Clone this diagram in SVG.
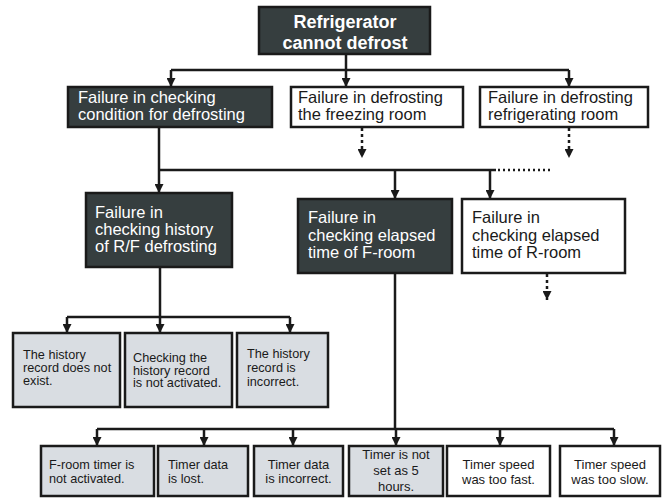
<svg xmlns="http://www.w3.org/2000/svg" width="663" height="498" viewBox="0 0 663 498">
<defs>
<marker id="ah" viewBox="0 0 10 10" refX="10" refY="5" markerWidth="9" markerHeight="9" markerUnits="userSpaceOnUse" orient="auto"><path d="M0,0 L10,5 L0,10 Z" fill="#1a1a1a"/></marker>
<style>
.dk{fill:#363e3f;stroke:#1a1a1a;stroke-width:2.5}
.wh{fill:#ffffff;stroke:#1a1a1a;stroke-width:2.5}
.gr{fill:#d9dde2;stroke:#1a1a1a;stroke-width:2.5}
.c{fill:none;stroke:#1a1a1a;stroke-width:2.5}
.a{fill:none;stroke:#1a1a1a;stroke-width:2.5;marker-end:url(#ah)}
.d{fill:none;stroke:#1a1a1a;stroke-width:2.5;stroke-dasharray:3,3;marker-end:url(#ah)}
.dl{fill:none;stroke:#1a1a1a;stroke-width:2.5;stroke-dasharray:2,3}
text{font-family:"Liberation Sans",Arial,sans-serif}
.tb{font-size:18px;font-weight:bold;fill:#ffffff;text-anchor:middle}
.tw{font-size:16.5px;fill:#ffffff}
.tk{font-size:16.5px;fill:#1a1a1a}
.s{font-size:12.7px;fill:#1a1a1a}
.sm{font-size:13px;fill:#1a1a1a;text-anchor:middle}
</style>
</defs>
<g id="connectors">
<path class="a" d="M346,54 V87"/>
<path class="c" d="M171,70 H569"/>
<path class="a" d="M171,70 V87"/>
<path class="a" d="M569,70 V87"/>
<path class="d" d="M362,128 V158"/>
<path class="d" d="M569,128 V158"/>
<path class="a" d="M159,127 V193"/>
<path class="c" d="M159,170 H496"/>
<path class="dl" d="M498,170 H551"/>
<path class="a" d="M395,170 V199"/>
<path class="a" d="M490,170 V199"/>
<path class="d" d="M547,274 V300"/>
<path class="c" d="M160,267 V317"/>
<path class="c" d="M67,317 H290"/>
<path class="a" d="M67,317 V333"/>
<path class="a" d="M160,317 V333"/>
<path class="a" d="M290,317 V333"/>
<path class="c" d="M395,273 V429"/>
<path class="c" d="M97,429 H614"/>
<path class="a" d="M97,429 V446"/>
<path class="a" d="M204,429 V446"/>
<path class="a" d="M293,429 V446"/>
<path class="a" d="M396,429 V446"/>
<path class="a" d="M500,429 V446"/>
<path class="a" d="M614,429 V446"/>
</g>
<g id="n0"><rect class="dk" x="259" y="7" width="171" height="47"/><text class="tb" x="345" y="28">Refrigerator</text><text class="tb" x="345" y="49">cannot defrost</text></g>
<g id="n1"><rect class="dk" x="68" y="87" width="204" height="40"/><text class="tw" x="78" y="103">Failure in checking</text><text class="tw" x="78" y="120">condition for defrosting</text></g>
<g id="n2"><rect class="wh" x="291" y="87" width="172" height="40"/><text class="tk" x="298" y="103">Failure in defrosting</text><text class="tk" x="298" y="120">the freezing room</text></g>
<g id="n3"><rect class="wh" x="480" y="87" width="168" height="40"/><text class="tk" x="488" y="103">Failure in defrosting</text><text class="tk" x="488" y="120">refrigerating room</text></g>
<g id="n4"><rect class="dk" x="86" y="193" width="146" height="74"/><text class="tw" x="95" y="218">Failure in</text><text class="tw" x="95" y="235">checking history</text><text class="tw" x="95" y="252">of R/F defrosting</text></g>
<g id="n5"><rect class="dk" x="298" y="199" width="154" height="74"/><text class="tw" x="308" y="223">Failure in</text><text class="tw" x="308" y="240.5">checking elapsed</text><text class="tw" x="308" y="258">time of F-room</text></g>
<g id="n6"><rect class="wh" x="462" y="199" width="163" height="74"/><text class="tk" x="472" y="223">Failure in</text><text class="tk" x="472" y="240.5">checking elapsed</text><text class="tk" x="472" y="258">time of R-room</text></g>
<g id="n7"><rect class="gr" x="13" y="333" width="107" height="74"/><text class="s" x="23" y="359">The history</text><text class="s" x="23" y="372">record does not</text><text class="s" x="23" y="385">exist.</text></g>
<g id="n8"><rect class="gr" x="125" y="333" width="107" height="74"/><text class="s" x="133" y="362">Checking the</text><text class="s" x="133" y="374.5">history record</text><text class="s" x="133" y="387">is not activated.</text></g>
<g id="n9"><rect class="gr" x="237" y="333" width="91" height="74"/><text class="s" x="247" y="358">The history</text><text class="s" x="247" y="372">record is</text><text class="s" x="247" y="386">incorrect.</text></g>
<g id="n10"><rect class="gr" x="41" y="446" width="113" height="50"/><text class="s" x="49" y="469" font-size="13">F-room timer is</text><text class="s" x="49" y="483" font-size="13">not activated.</text></g>
<g id="n11"><rect class="gr" x="158" y="446" width="90" height="50"/><text class="s" x="168" y="469" font-size="13">Timer data</text><text class="s" x="168" y="483" font-size="13">is lost.</text></g>
<g id="n12"><rect class="gr" x="254" y="446" width="89" height="50"/><text class="sm" x="298.5" y="469">Timer data</text><text class="sm" x="298.5" y="483">is incorrect.</text></g>
<g id="n13"><rect class="gr" x="349" y="446" width="94" height="50"/><text class="sm" x="396" y="459">Timer is not</text><text class="sm" x="396" y="475">set as 5</text><text class="sm" x="396" y="491">hours.</text></g>
<g id="n14"><rect class="wh" x="447" y="446" width="103" height="50"/><text class="sm" x="498.5" y="469">Timer speed</text><text class="sm" x="498.5" y="484">was too fast.</text></g>
<g id="n15"><rect class="wh" x="560" y="446" width="100" height="50"/><text class="sm" x="610" y="469">Timer speed</text><text class="sm" x="610" y="484">was too slow.</text></g>
</svg>
